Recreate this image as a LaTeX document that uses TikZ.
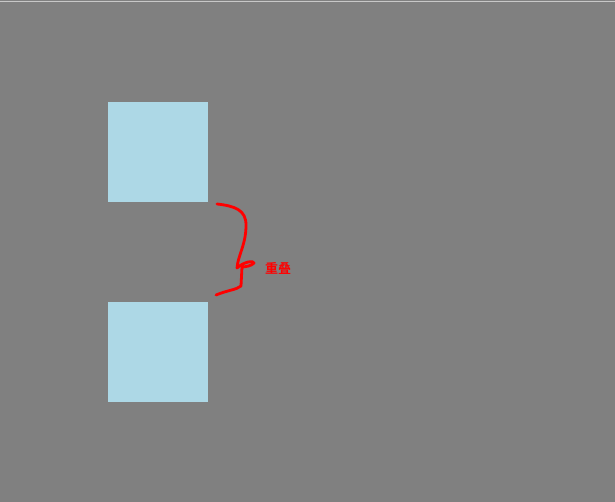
\documentclass[tikz,border=0pt]{standalone}
\usepackage{fontspec}
\newfontfamily\cjk[BoldFont={Noto Sans CJK SC Bold}]{Noto Sans CJK SC}
\definecolor{bg}{HTML}{808080}
\definecolor{boxblue}{HTML}{ADD8E6}
\definecolor{topline}{HTML}{C8C8C8}
\tikzset{
  sq/.style={fill=boxblue, draw=none, minimum width=100pt, minimum height=100pt, inner sep=0pt, outer sep=0pt},
  mark line/.style={draw=red, line width=2.8pt, line cap=round, line join=round},
  lbl/.style={text=red, font=\cjk\bfseries\fontsize{13pt}{15pt}\selectfont, inner sep=0pt}
}
\begin{document}
\begin{tikzpicture}[x=1pt,y=-1pt]
\fill[bg] (0,0) rectangle (615,502);
\useasboundingbox (0,0) rectangle (615,502);
\draw[topline, line width=1pt] (0,1.5) -- (615,1.5);
\node[sq] (a) at (158,152) {};
\node[sq] (b) at (158,352) {};
\coordinate (s) at (217,204);
\coordinate (e) at (216,295);
\draw[mark line] (s) .. controls (235,206) and (246,210) .. (246,225)
  .. controls (246,245) and (238,255) .. (237,268)
  .. controls (243,262) and (254,260) .. (254,263)
  .. controls (252,266) and (244,267) .. (242,267)
  -- (241,286)
  .. controls (236,290) and (228,290) .. (e);
\node[lbl] (t) at (278,268) {重叠};
\end{tikzpicture}
\end{document}
